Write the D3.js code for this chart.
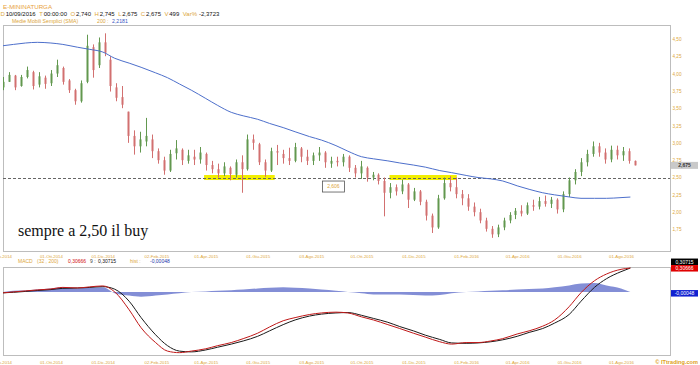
<!DOCTYPE html>
<html>
<head>
<meta charset="utf-8">
<script src="https://cdn.jsdelivr.net/npm/d3@7"></script>
<style>
  body { margin: 0; background: #fff; }
  svg { display: block; }
</style>
</head>
<body>
<div id="chart"></div>
<script>
// weekly candles, Monday of each week (2014-08-04 .. 2016-08-15)
const weekStart = new Date(2014, 7, 4), weekEnd = new Date(2016, 7, 16);

const opens = [3.80,3.88,3.97,3.82,3.95,4.02,3.84,3.94,3.86,4.00,4.08,3.90,3.76,3.60,3.88,4.38,4.12,4.45,4.20,3.80,
  3.66,3.45,3.10,2.95,3.02,3.05,2.88,2.75,2.60,2.85,2.90,2.74,2.80,2.76,2.84,2.68,2.62,2.56,2.64,2.54,
  2.72,2.62,3.05,2.98,2.72,2.60,2.88,2.84,2.78,2.74,2.92,2.80,2.74,2.82,2.86,2.70,2.74,2.72,2.80,2.64,
  2.56,2.64,2.50,2.54,2.45,2.28,2.36,2.30,2.40,2.18,2.30,2.15,1.95,1.78,2.20,2.42,2.36,2.26,2.20,2.08,
  2.00,1.88,1.76,1.68,1.78,1.88,1.96,2.02,1.98,2.10,2.08,2.16,2.12,2.18,2.04,2.26,2.46,2.58,2.72,2.84,
  2.95,2.86,2.76,2.90,2.82,2.88,2.74];
const highs = [3.95,4.02,3.98,3.98,4.10,4.04,4.02,3.97,4.05,4.20,4.10,3.92,3.78,3.90,4.56,4.42,4.52,4.58,4.25,3.86,
  3.82,3.45,3.18,3.16,3.36,3.12,2.92,2.80,2.90,3.04,2.92,2.90,2.90,2.94,2.86,2.74,2.70,2.72,2.66,2.76,
  2.82,3.12,3.12,3.00,2.76,2.93,2.97,2.90,2.93,3.00,2.94,2.90,2.86,2.94,2.88,2.80,2.80,2.84,2.82,2.68,
  2.74,2.66,2.58,2.56,2.50,2.42,2.40,2.47,2.42,2.35,2.32,2.18,1.98,2.25,2.50,2.52,2.50,2.32,2.26,2.14,
  2.05,1.92,1.80,1.82,1.92,2.00,2.06,2.10,2.14,2.18,2.22,2.24,2.22,2.20,2.30,2.50,2.62,2.78,2.90,3.02,
  3.00,2.92,2.96,2.96,2.94,2.92,2.745];
const lows = [3.76,3.88,3.76,3.81,3.93,3.77,3.80,3.78,3.82,3.95,3.84,3.72,3.55,3.58,3.86,3.94,4.08,4.25,3.74,3.60,
  3.50,3.00,2.83,2.86,2.95,2.78,2.70,2.54,2.58,2.76,2.68,2.70,2.68,2.70,2.60,2.56,2.50,2.52,2.46,2.50,
  2.28,2.60,2.90,2.68,2.51,2.58,2.68,2.70,2.68,2.72,2.72,2.68,2.68,2.74,2.64,2.64,2.66,2.66,2.58,2.50,
  2.48,2.44,2.46,2.40,1.94,2.20,2.24,2.26,2.06,2.16,2.10,1.88,1.70,1.76,2.18,2.30,2.20,2.10,2.02,1.94,
  1.84,1.72,1.63,1.64,1.74,1.84,1.90,1.94,1.96,2.02,2.04,2.08,2.06,1.98,2.00,2.22,2.40,2.52,2.66,2.80,
  2.80,2.70,2.72,2.76,2.74,2.70,2.675];
const closes = [3.88,3.98,3.80,3.95,4.05,3.82,3.96,3.85,4.00,4.12,3.88,3.76,3.60,3.86,4.40,4.05,4.45,4.30,3.82,3.65,
  3.55,3.10,2.95,3.05,3.10,2.88,2.75,2.60,2.84,2.92,2.75,2.82,2.76,2.86,2.68,2.62,2.56,2.66,2.55,2.72,
  2.62,3.05,3.00,2.72,2.60,2.88,2.86,2.78,2.74,2.94,2.80,2.74,2.82,2.86,2.72,2.74,2.72,2.80,2.64,2.56,
  2.66,2.50,2.54,2.45,2.28,2.36,2.30,2.40,2.18,2.30,2.15,1.95,1.78,2.20,2.42,2.36,2.26,2.20,2.08,2.00,
  1.88,1.76,1.68,1.78,1.88,1.96,2.02,1.98,2.10,2.08,2.16,2.12,2.18,2.04,2.26,2.46,2.58,2.72,2.84,2.95,
  2.86,2.76,2.90,2.82,2.88,2.74,2.675];

// indicator samples (twice a month)
const indDates = ["2014-08-05","2014-08-18","2014-09-01","2014-09-15","2014-10-01","2014-10-15","2014-11-01","2014-11-15",
  "2014-12-01","2014-12-15","2015-01-01","2015-01-15","2015-02-01","2015-02-15","2015-03-01","2015-03-15","2015-04-01",
  "2015-04-15","2015-05-01","2015-05-15","2015-06-01","2015-06-15","2015-07-01","2015-07-15","2015-08-01","2015-08-15",
  "2015-09-01","2015-09-15","2015-10-01","2015-10-15","2015-11-01","2015-11-15","2015-12-01","2015-12-15","2016-01-01",
  "2016-01-15","2016-02-01","2016-02-15","2016-03-01","2016-03-15","2016-04-01","2016-04-15","2016-05-01","2016-05-15",
  "2016-06-01","2016-06-15","2016-07-01","2016-07-15","2016-08-01","2016-08-12"];
const sma200 = [4.40,4.42,4.44,4.45,4.44,4.42,4.38,4.35,4.31,4.22,4.15,4.09,4.01,3.94,3.85,3.76,3.64,3.54,3.44,3.39,
  3.34,3.28,3.22,3.16,3.09,3.04,2.96,2.88,2.80,2.77,2.74,2.71,2.68,2.65,2.60,2.57,2.53,2.50,2.48,2.45,
  2.38,2.33,2.28,2.25,2.22,2.20,2.20,2.20,2.21,2.2181];
const macdLine = [-0.013,0.0,0.013,0.026,0.038,0.058,0.051,0.064,0.077,0.0,-0.23,-0.46,-0.65,-0.76,-0.78,-0.76,-0.73,
  -0.69,-0.65,-0.60,-0.53,-0.45,-0.37,-0.33,-0.29,-0.27,-0.26,-0.27,-0.32,-0.36,-0.42,-0.47,-0.53,-0.58,-0.64,
  -0.67,-0.65,-0.65,-0.63,-0.60,-0.54,-0.50,-0.44,-0.36,-0.19,-0.01,0.145,0.23,0.29,0.30666];
const signalLine = [-0.012,-0.005,0.006,0.018,0.030,0.046,0.050,0.057,0.068,0.035,-0.12,-0.33,-0.55,-0.69,-0.76,-0.77,
  -0.745,-0.71,-0.67,-0.63,-0.57,-0.50,-0.42,-0.36,-0.31,-0.285,-0.27,-0.265,-0.30,-0.34,-0.39,-0.445,-0.50,-0.555,
  -0.61,-0.655,-0.66,-0.655,-0.64,-0.615,-0.57,-0.52,-0.47,-0.40,-0.29,-0.12,0.06,0.17,0.26,0.30715];
const macdHist = [0.0,0.01,0.012,0.02,0.03,0.04,0.03,0.035,0.04,-0.01,-0.03,-0.04,-0.03,-0.02,-0.01,0.0,0.005,0.01,
  0.015,0.02,0.03,0.035,0.04,0.035,0.03,0.02,0.01,0.0,-0.01,-0.02,-0.02,-0.02,-0.025,-0.03,-0.025,-0.01,0.0,0.005,
  0.01,0.015,0.02,0.025,0.03,0.04,0.055,0.07,0.075,0.055,0.03,-0.00048];

const priceTicks = [1.75, 2.00, 2.25, 2.50, 2.75, 3.00, 3.25, 3.50, 3.75, 4.00, 4.25, 4.50];
const dateTicks = ["2014-08-01","2014-10-01","2014-12-01","2015-02-02","2015-04-01","2015-06-01","2015-08-03",
  "2015-10-01","2015-12-01","2016-02-01","2016-04-01","2016-06-01","2016-08-01"];
const supportLevel = 2.50;
const supportZones = [["2015-03-30", "2015-06-21"], ["2015-11-03", "2016-01-21"]];

const W = 700, H = 365;
const main = { left: 3, right: 670, top: 25, bottom: 251 };
const lower = { left: 3, right: 670, top: 267, bottom: 355 };
const gold = "#dca63a", upCol = "#62984f", downCol = "#d27070";
const comma = v => v.replace(".", ",");

const parse = d3.timeParse("%Y-%m-%d");
const itLocale = d3.timeFormatLocale({
  dateTime: "%A %e %B %Y, %X", date: "%d/%m/%Y", time: "%H:%M:%S", periods: ["AM", "PM"],
  days: ["Domenica","Lunedì","Martedì","Mercoledì","Giovedì","Venerdì","Sabato"],
  shortDays: ["Dom","Lun","Mar","Mer","Gio","Ven","Sab"],
  months: ["Gennaio","Febbraio","Marzo","Aprile","Maggio","Giugno","Luglio","Agosto","Settembre","Ottobre","Novembre","Dicembre"],
  shortMonths: ["Gen","Feb","Mar","Apr","Mag","Giu","Lug","Ago","Set","Ott","Nov","Dic"]
});
const fmtDate = itLocale.format("%d-%b-%Y");

const weeks = d3.timeMonday.range(weekStart, weekEnd);
const candles = weeks.map((d, i) => ({
  date: d3.timeDay.offset(d, 2), open: opens[i], high: highs[i], low: lows[i], close: closes[i]
}));
const ind = indDates.map((d, i) => ({
  date: parse(d), sma: sma200[i], macd: macdLine[i], signal: signalLine[i], hist: macdHist[i]
}));

const x = d3.scaleTime().domain([parse("2014-08-01"), parse("2016-08-01")]).range([-1, 621]);
const y = d3.scaleLinear().domain([1.44, 4.70]).range([main.bottom, main.top]);
const yM = d3.scaleLinear().domain([-0.81, 0.32]).range([lower.bottom, lower.top]);
const yH = d3.scaleLinear().domain([-0.1, 0.1]).range([304, 280]);

const svg = d3.select("#chart").append("svg")
  .attr("width", W).attr("height", H)
  .style("font-family", "'Liberation Sans', Arial, sans-serif");

const defs = svg.append("defs");
defs.append("clipPath").attr("id", "clipMain").append("rect")
  .attr("x", main.left).attr("y", main.top).attr("width", main.right - main.left).attr("height", main.bottom - main.top);
defs.append("clipPath").attr("id", "clipLow").append("rect")
  .attr("x", lower.left).attr("y", lower.top).attr("width", lower.right - lower.left).attr("height", lower.bottom - lower.top);

// header
svg.append("text").attr("x", 3).attr("y", 8.5).attr("font-size", 6.2).attr("fill", "#e8a23a").text("E-MININATURGA");

const headerBits = [
  ["D", gold, 0], ["10/09/2016", "#111", 0.8], ["T", gold, 3.5], ["00:00:00", "#111", 0.8],
  ["O", gold, 3.5], ["2,740", "#111", 0.8], ["H", gold, 3.5], ["2,745", "#111", 0.8],
  ["L", gold, 3.5], ["2,675", "#111", 0.8], ["C", gold, 3.5], ["2,675", "#111", 0.8],
  ["V", gold, 3.5], ["499", "#111", 0.8], ["Var%", gold, 3.5], ["-2,3723", "#111", 2]
];
svg.append("text").attr("x", 0.5).attr("y", 16).attr("font-size", 6)
  .selectAll("tspan").data(headerBits).join("tspan")
  .attr("dx", d => d[2]).attr("fill", d => d[1]).text(d => d[0]);

svg.append("text").attr("x", 12).attr("y", 22.5).attr("font-size", 5.2).attr("fill", gold).text("Medie Mobili Semplici (SMA)");
svg.append("text").attr("x", 97).attr("y", 22.5).attr("font-size", 5.2).attr("fill", gold).text("200 :");
svg.append("text").attr("x", 112).attr("y", 22.5).attr("font-size", 5.2).attr("fill", "#3a56c4").text("2,2181");

// panel frames
[main, lower].forEach(p => {
  svg.append("rect").attr("x", p.left + 0.5).attr("y", p.top + 0.5)
    .attr("width", p.right - p.left).attr("height", p.bottom - p.top)
    .attr("fill", "none").attr("stroke", "#bdbdbd");
});

// support zones and level
const gMain = svg.append("g").attr("clip-path", "url(#clipMain)");
gMain.selectAll("rect.zone").data(supportZones).join("rect")
  .attr("class", "zone")
  .attr("x", d => x(parse(d[0]))).attr("width", d => x(parse(d[1])) - x(parse(d[0])))
  .attr("y", y(supportLevel) - 2.5).attr("height", 5)
  .attr("fill", "#f2ee00");

gMain.append("line")
  .attr("x1", main.left).attr("x2", main.right)
  .attr("y1", Math.round(y(supportLevel)) + 0.5).attr("y2", Math.round(y(supportLevel)) + 0.5)
  .attr("stroke", "#666").attr("stroke-dasharray", "3,2");

// candles
const cg = gMain.append("g").selectAll("g").data(candles).join("g")
  .attr("stroke", d => d.close >= d.open ? upCol : downCol)
  .attr("fill", d => d.close >= d.open ? upCol : downCol);
cg.append("line")
  .attr("x1", d => Math.round(x(d.date)) + 0.5).attr("x2", d => Math.round(x(d.date)) + 0.5)
  .attr("y1", d => y(d.high)).attr("y2", d => y(d.low));
cg.append("rect")
  .attr("stroke", "none")
  .attr("x", d => Math.round(x(d.date)) - 0.5).attr("width", 2)
  .attr("y", d => y(Math.max(d.open, d.close)))
  .attr("height", d => Math.max(1, Math.abs(y(d.open) - y(d.close))));

// SMA 200
gMain.append("path").datum(ind)
  .attr("fill", "none").attr("stroke", "#4d6fcb").attr("stroke-width", 1)
  .attr("d", d3.line().x(d => x(d.date)).y(d => y(d.sma)).curve(d3.curveMonotoneX));

// price axis
const yAxis = svg.append("g").attr("transform", `translate(${main.right},0)`)
  .call(d3.axisRight(y).tickValues(priceTicks).tickSize(0).tickPadding(2.5).tickFormat(d => comma(d3.format(".2f")(d))));
yAxis.select(".domain").remove();
yAxis.selectAll("text").attr("font-size", 4.6).attr("fill", gold).attr("font-family", null);

// last price box
const lastClose = closes[closes.length - 1];
svg.append("rect").attr("x", 671).attr("y", y(lastClose) - 3.5).attr("width", 27).attr("height", 7).attr("fill", "#c9c9c9");
svg.append("text").attr("x", 684.5).attr("y", y(lastClose) + 1.8).attr("text-anchor", "middle")
  .attr("font-size", 5).attr("font-weight", "bold").attr("fill", "#333").text(comma(lastClose.toFixed(3)));

// level label
const lvlX = x(parse("2015-08-29")), lvlY = y(2.37);
svg.append("rect").attr("x", lvlX - 11).attr("y", lvlY - 5.5).attr("width", 22).attr("height", 11)
  .attr("fill", "#fff").attr("stroke", "#555").attr("stroke-width", 0.8);
svg.append("text").attr("x", lvlX).attr("y", lvlY + 1.8).attr("text-anchor", "middle")
  .attr("font-size", 5).attr("fill", gold).text("2,606");

// note
svg.append("text").attr("x", 18).attr("y", 236).attr("font-family", "'Liberation Serif', 'Times New Roman', serif")
  .attr("font-size", 16).attr("fill", "#111").text("sempre a 2,50 il buy");

// date axes
function dateAxis(yPos, baseline) {
  const g = svg.append("g").attr("transform", `translate(0,${yPos})`)
    .call(d3.axisBottom(x).tickValues(dateTicks.map(parse)).tickSize(0).tickFormat(fmtDate));
  g.select(".domain").remove();
  g.selectAll("text").attr("y", baseline).attr("dy", null)
    .attr("font-size", 4.3).attr("fill", gold).attr("font-family", null);
}
dateAxis(main.bottom, 7);
dateAxis(lower.bottom, 9);

// MACD legend
const legendBits = [
  ["MACD", 18, gold], ["(32 , 200)", 37, gold], ["0,30666", 68, "#d21010"],
  ["9 :", 90, "#444"], ["0,30715", 98, "#111"], ["hist :", 130, gold], ["-0,00048", 150, "#2233aa"]
];
svg.append("g").selectAll("text").data(legendBits).join("text")
  .attr("x", d => d[1]).attr("y", 262.8).attr("font-size", 5).attr("fill", d => d[2]).text(d => d[0]);

// MACD panel
const gLow = svg.append("g").attr("clip-path", "url(#clipLow)");
gLow.append("path").datum(ind)
  .attr("fill", "#5a68c8").attr("fill-opacity", 0.75)
  .attr("d", d3.area().x(d => x(d.date)).y0(yH(0)).y1(d => yH(d.hist)).curve(d3.curveMonotoneX));
gLow.append("path").datum(ind)
  .attr("fill", "none").attr("stroke", "#1a1a1a").attr("stroke-width", 1)
  .attr("d", d3.line().x(d => x(d.date)).y(d => yM(d.signal)).curve(d3.curveMonotoneX));
gLow.append("path").datum(ind)
  .attr("fill", "none").attr("stroke", "#c01818").attr("stroke-width", 1)
  .attr("d", d3.line().x(d => x(d.date)).y(d => yM(d.macd)).curve(d3.curveMonotoneX));

// MACD value boxes
const lastInd = ind[ind.length - 1];
const boxes = [
  { label: "0,30715", y: yM(lastInd.macd) - 9.5, fill: "#000" },
  { label: "0,30666", y: yM(lastInd.macd) - 3, fill: "#e00000" },
  { label: "-0,00048", y: yH(lastInd.hist) - 2, fill: "#1020d0" }
];
const bx = svg.append("g").selectAll("g").data(boxes).join("g");
bx.append("rect").attr("x", 671).attr("y", d => d.y).attr("width", 27).attr("height", 6.5).attr("fill", d => d.fill);
bx.append("text").attr("x", 684.5).attr("y", d => d.y + 5).attr("text-anchor", "middle")
  .attr("font-size", 5).attr("fill", "#fff").text(d => d.label);

svg.append("text").attr("x", 698).attr("y", 364).attr("text-anchor", "end")
  .attr("font-size", 5.6).attr("font-weight", "bold").attr("fill", "#e0a020").text("© ITtrading.com");
</script>
</body>
</html>
